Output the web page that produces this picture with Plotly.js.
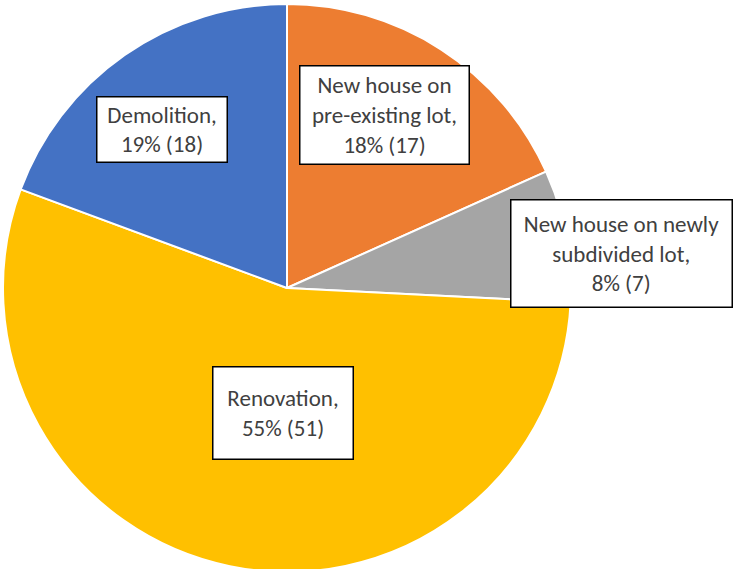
<!DOCTYPE html>
<html>
<head>
<meta charset="utf-8">
<script src="https://cdn.plot.ly/plotly-3.0.1.min.js"></script>
<style>
html, body { margin: 0; padding: 0; overflow: hidden; background: #fff; }
#chart { width: 733px; height: 572px; }
</style>
</head>
<body>
<div id="chart"></div>
<script>
// Data
const categories = [
  "New house on pre-existing lot",
  "New house on newly subdivided lot",
  "Renovation",
  "Demolition"
];
const counts = [17, 7, 51, 18];
const labelLines = [
  ["New house on", "pre-existing lot,"],
  ["New house on newly", "subdivided lot,"],
  ["Renovation,"],
  ["Demolition,"]
];
const colors = ["#ED7D31", "#A5A5A5", "#FFC000", "#4472C4"];

// Label box placement (pixel centre and box size in a 733x572 page)
const boxPos = [
  {x: 384, y: 112, w: 168, h: 97},
  {x: 621, y: 251, w: 220, h: 106},
  {x: 283, y: 412, w: 139, h: 91},
  {x: 162, y: 126, w: 129, h: 64}
];

const W = 733, H = 572;
const total = counts.reduce((a, b) => a + b, 0);

const annotations = categories.map((c, i) => {
  const pct = Math.round(counts[i] / total * 100);
  const text = labelLines[i].concat([pct + "% (" + counts[i] + ")"]).join("<br>");
  return {
    xref: "paper", yref: "paper",
    x: boxPos[i].x / W, y: 1 - boxPos[i].y / H,
    xanchor: "center", yanchor: "middle",
    width: boxPos[i].w, height: boxPos[i].h,
    text: text, showarrow: false,
    font: {family: "Carlito, Lato, 'Liberation Sans', sans-serif", size: 23, color: "#404040"},
    bgcolor: "#ffffff", bordercolor: "#000000", borderwidth: 1.5, borderpad: 0
  };
});

const trace = {
  type: "pie",
  labels: categories,
  values: counts,
  sort: false,
  direction: "clockwise",
  rotation: 0,
  textinfo: "none",
  hoverinfo: "label+value+percent",
  marker: {colors: colors, line: {color: "#ffffff", width: 2}},
  domain: {x: [3 / W, 571 / W], y: [0, 1]},
  showlegend: false
};

const layout = {
  width: W, height: H,
  margin: {l: 0, r: 0, t: 4, b: 0},
  paper_bgcolor: "#ffffff",
  showlegend: false,
  annotations: annotations
};

Plotly.newPlot("chart", [trace], layout, {displayModeBar: false, staticPlot: true});
</script>
</body>
</html>
